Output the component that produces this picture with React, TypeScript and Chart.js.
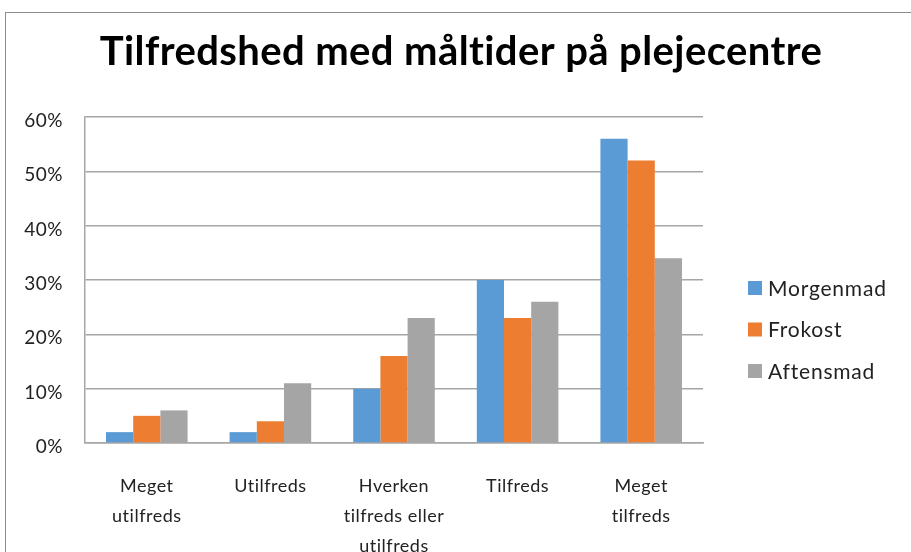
import React, { useEffect, useRef } from "react";
import { Chart, registerables } from "chart.js";

Chart.register(...registerables);

const categories: (string | string[])[] = [
  ["Meget", "utilfreds"],
  "Utilfreds",
  ["Hverken", "tilfreds eller", "utilfreds"],
  "Tilfreds",
  ["Meget", "tilfreds"],
];
const morgenmad = [2, 2, 10, 30, 56];
const frokost = [5, 4, 16, 23, 52];
const aftensmad = [6, 11, 23, 26, 34];
const seriesNames = ["Morgenmad", "Frokost", "Aftensmad"];
const seriesColors = ["#5B9BD5", "#ED7D31", "#A5A5A5"];
const yTicks = [0, 10, 20, 30, 40, 50, 60];
const titleText = "Tilfredshed med måltider på plejecentre";

const FONT = "Lato, 'Open Sans', sans-serif";
const PAD_L = 16;
const PAD_R = 208;
const CANVAS_H = 581;

const overlayPlugin = {
  id: "overlayText",
  beforeDraw(chart: any) {
    (chart.ctx as any).letterSpacing = "0.5px";
  },
  afterDraw(chart: any) {
    const ctx = chart.ctx as any;
    ctx.save();
    // title
    ctx.fillStyle = "#000";
    ctx.font = `bold 40px ${FONT}`;
    ctx.letterSpacing = "0.4px";
    ctx.textAlign = "center";
    ctx.textBaseline = "middle";
    ctx.fillText(titleText, 461, 52.5);
    // legend
    ctx.font = `21px ${FONT}`;
    ctx.letterSpacing = "0.8px";
    ctx.textAlign = "left";
    const ys = [288, 329.5, 371];
    seriesNames.forEach((name, i) => {
      ctx.fillStyle = seriesColors[i];
      ctx.fillRect(748, ys[i] - 7, 14, 14);
      ctx.fillStyle = "#222";
      ctx.fillText(name, 768, ys[i] + 1);
    });
    ctx.restore();
    ctx.letterSpacing = "0px";
  },
};

export default function App() {
  const ref = useRef<HTMLCanvasElement | null>(null);
  useEffect(() => {
    if (!ref.current) return;
    const chart = new Chart(ref.current, {
      type: "bar",
      data: {
        labels: categories,
        datasets: [morgenmad, frokost, aftensmad].map((d, i) => ({
          label: seriesNames[i],
          data: d,
          backgroundColor: seriesColors[i],
          borderWidth: 0,
          categoryPercentage: 0.66,
          barPercentage: 1.0,
        })),
      },
      plugins: [overlayPlugin],
      options: {
        animation: false,
        responsive: false,
        maintainAspectRatio: false,
        layout: { padding: { left: PAD_L, right: PAD_R, top: 117, bottom: 0 } },
        plugins: {
          title: { display: false },
          legend: { display: false },
          tooltip: { enabled: false },
        },
        scales: {
          x: {
            grid: { display: false },
            border: { display: true, color: "#a6a6a6", width: 1.5 },
            ticks: {
              color: "#222",
              font: { family: FONT, size: 18, lineHeight: 30 / 18 },
              padding: 20,
              maxRotation: 0,
              autoSkip: false,
            },
          },
          y: {
            min: 0,
            max: 60,
            afterFit: (scale: any) => {
              scale.width = 85 - PAD_L;
            },
            afterBuildTicks: (scale: any) => {
              scale.ticks = yTicks.map((v) => ({ value: v }));
            },
            grid: { color: "#a6a6a6", lineWidth: 1.5, drawTicks: false },
            border: { display: true, color: "#a6a6a6", width: 1.5 },
            ticks: {
              color: "#222",
              font: { family: FONT, size: 19 },
              padding: 22,
              labelOffset: 4,
              callback: (v: any) => v + "%",
            },
          },
        },
      },
    });
    return () => chart.destroy();
  }, []);

  return (
    <div
      style={{
        position: "fixed",
        left: 0,
        top: 0,
        width: 911,
        height: 552,
        overflow: "hidden",
        background: "#fff",
      }}
    >
      <canvas
        ref={ref}
        width={911}
        height={CANVAS_H}
        style={{ position: "absolute", left: 0, top: 0, width: 911, height: CANVAS_H }}
      />
      <div
        style={{
          position: "absolute",
          left: 5,
          top: 12,
          width: 1200,
          height: 1200,
          border: "1px solid #8c8c8c",
          pointerEvents: "none",
        }}
      />
    </div>
  );
}
